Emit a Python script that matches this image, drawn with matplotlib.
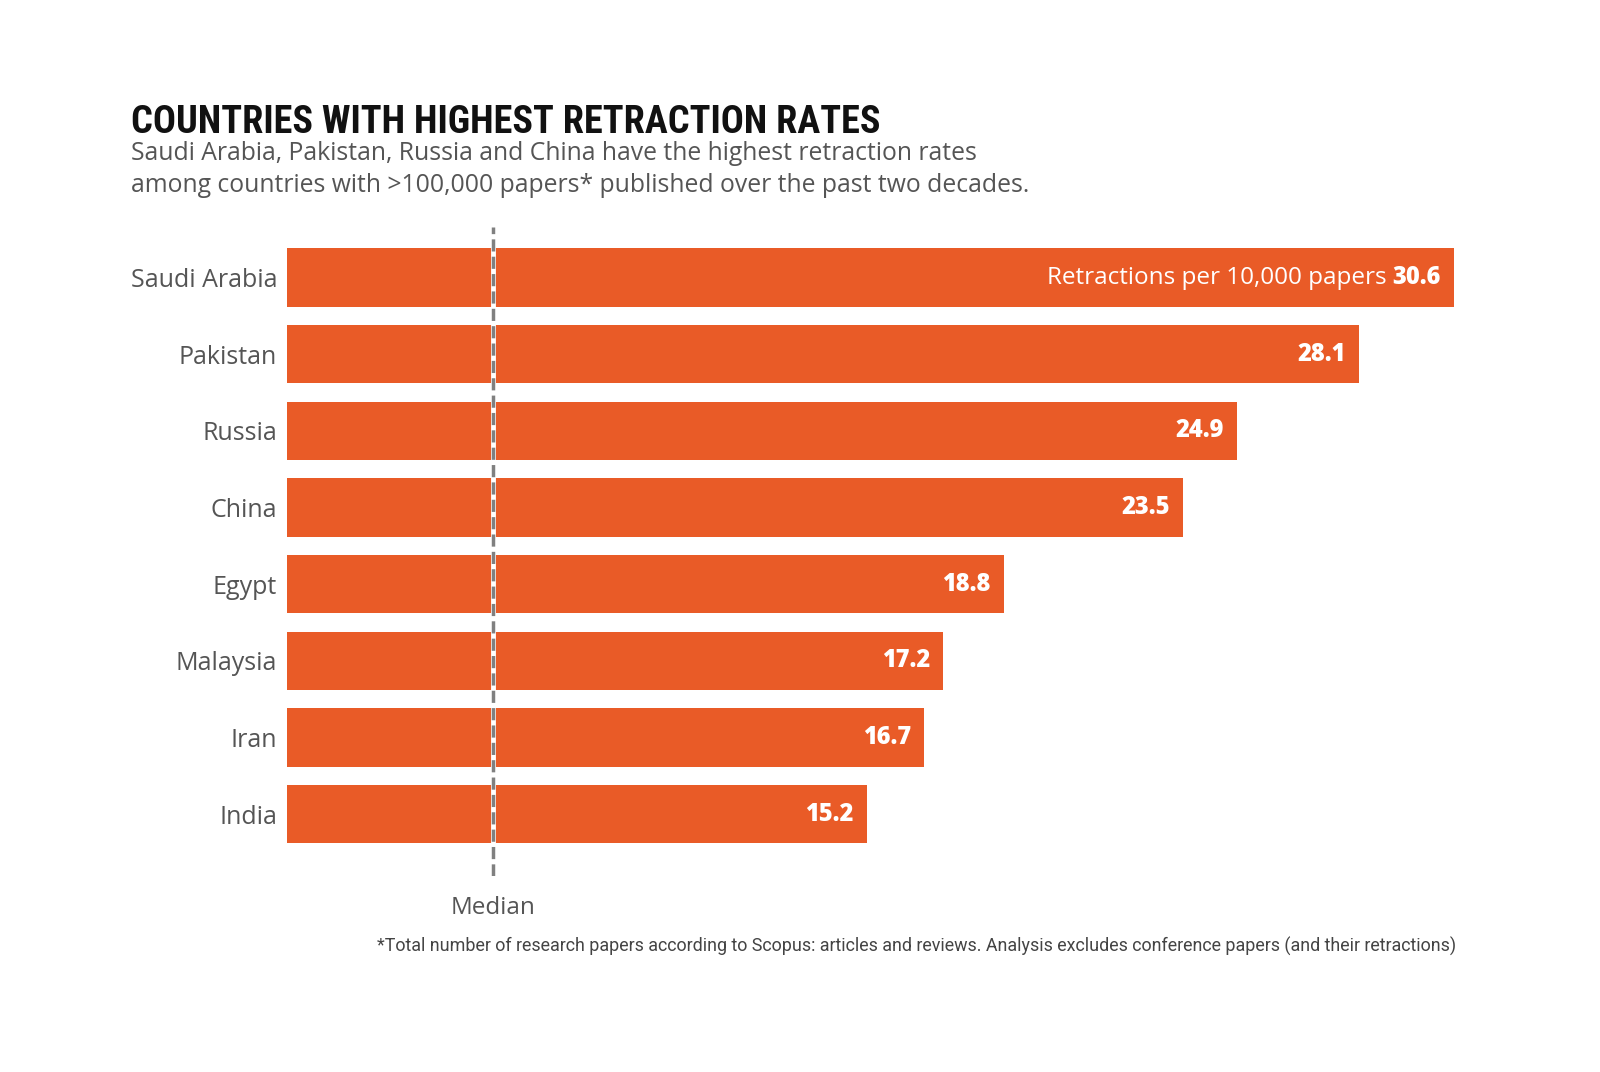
import matplotlib
matplotlib.use("Agg")
import matplotlib.pyplot as plt
from matplotlib import font_manager

# datos del grafico
countries = ["Saudi Arabia", "Pakistan", "Russia", "China", "Egypt", "Malaysia", "Iran", "India"]
rates = [30.6, 28.1, 24.9, 23.5, 18.8, 17.2, 16.7, 15.2]
median_rate = 5.4

title = "COUNTRIES WITH HIGHEST RETRACTION RATES"
subtitle = ["Saudi Arabia, Pakistan, Russia and China have the highest retraction rates",
            "among countries with >100,000 papers* published over the past two decades."]
footnote = ("*Total number of research papers according to Scopus: articles and reviews. "
            "Analysis excludes conference papers (and their retractions)")

ORANGE = "#E95B27"
GRAY = "#555555"

def fx(x):
    return x / 1568

def fy(y):
    return 1 - y / 1050.56

# fuente angosta para el titulo si existe
nombres = {f.name for f in font_manager.fontManager.ttflist}
if "Roboto Condensed" in nombres:
    fuente_titulo, tam_titulo = "Roboto Condensed", 27.5
elif "Liberation Sans Narrow" in nombres:
    fuente_titulo, tam_titulo = "Liberation Sans Narrow", 26
else:
    fuente_titulo, tam_titulo = "Roboto", 22

fig = plt.figure(figsize=(16, 10.72), dpi=100)
ax = fig.add_axes([fx(281), fy(858), fx(1425) - fx(281), fy(222) - fy(858)])

y = list(range(len(countries)))
ax.barh(y, rates, height=0.76, color=ORANGE, zorder=1)
ax.set_xlim(0, rates[0])
ax.set_ylim(7.8, -0.665)

ax.set_yticks(y)
ax.set_yticklabels(countries, fontsize=18, color=GRAY, family="Open Sans")
ax.tick_params(axis="y", length=0, pad=7)
ax.set_xticks([])
for s in ax.spines.values():
    s.set_visible(False)

# linea de la mediana
ax.axvline(median_rate, color="white", lw=3.5, zorder=2)
ax.axvline(median_rate, color="#808080", lw=2.5, ls=(0, (3.5, 1.5)), zorder=3)
ax.text(median_rate, 8.22, "Median", ha="center", va="center", fontsize=17.5,
        color=GRAY, family="Open Sans", clip_on=False)

# etiquetas de valores
for i, v in enumerate(rates):
    t = ax.annotate(f"{v}", xy=(v, i), xytext=(-13, 0), textcoords="offset pixels",
                    ha="right", va="center", fontsize=17, color="white",
                    fontweight="heavy", family="Open Sans")
    if i == 0:
        ax.annotate("Retractions per 10,000 papers", xy=(0, 0.5), xycoords=t,
                    xytext=(-6, 0), textcoords="offset pixels", ha="right", va="center",
                    fontsize=17.5, color="white", family="Open Sans")

fig.text(fx(128), fy(130), title, fontsize=tam_titulo, fontweight="black",
         family=[fuente_titulo, "DejaVu Sans"], color="#111111", va="baseline")
fig.text(fx(128), fy(157), subtitle[0], fontsize=17.8, color=GRAY,
         family="Open Sans", va="baseline")
fig.text(fx(128), fy(188), subtitle[1], fontsize=17.8, color=GRAY,
         family="Open Sans", va="baseline")
fig.text(fx(1427), fy(927), footnote, fontsize=12.9, color="#444444",
         family="Roboto", ha="right", va="center")

fig.savefig("out.png", dpi=100, facecolor="white")
